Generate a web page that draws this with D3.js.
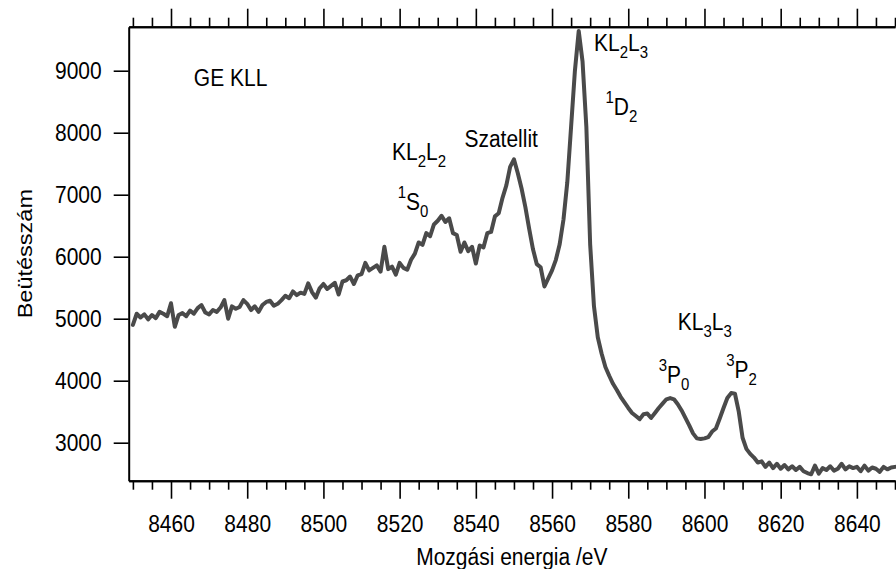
<!DOCTYPE html>
<html>
<head>
<meta charset="utf-8">
<script src="https://cdn.jsdelivr.net/npm/d3@7"></script>
<style>
  body { margin: 0; background: #fff; }
  svg { display: block; }
  text { font-family: "Liberation Sans", Arial, sans-serif; fill: #000; }
</style>
</head>
<body>
<svg id="chart" width="896" height="569"></svg>
<script>
// Kinetic energy of the electrons (eV)
const energy = [
  8450, 8451, 8452, 8453, 8454, 8455, 8456, 8457, 8458, 8459,
  8460, 8461, 8462, 8463, 8464, 8465, 8466, 8467, 8468, 8469,
  8470, 8471, 8472, 8473, 8474, 8475, 8476, 8477, 8478, 8479,
  8480, 8481, 8482, 8483, 8484, 8485, 8486, 8487, 8488, 8489,
  8490, 8491, 8492, 8493, 8494, 8495, 8496, 8497, 8498, 8499,
  8500, 8501, 8502, 8503, 8504, 8505, 8506, 8507, 8508, 8509,
  8510, 8511, 8512, 8513, 8514, 8515, 8516, 8517, 8518, 8519,
  8520, 8521, 8522, 8523, 8524, 8525, 8526, 8527, 8528, 8529,
  8530, 8531, 8532, 8533, 8534, 8535, 8536, 8537, 8538, 8539,
  8540, 8541, 8542, 8543, 8544, 8545, 8546, 8547, 8548, 8549,
  8550, 8551, 8552, 8553, 8554, 8555, 8556, 8557, 8558, 8559,
  8560, 8561, 8562, 8563, 8564, 8565, 8566, 8567, 8568, 8569,
  8570, 8571, 8572, 8573, 8574, 8575, 8576, 8577, 8578, 8579,
  8580, 8581, 8582, 8583, 8584, 8585, 8586, 8587, 8588, 8589,
  8590, 8591, 8592, 8593, 8594, 8595, 8596, 8597, 8598, 8599,
  8600, 8601, 8602, 8603, 8604, 8605, 8606, 8607, 8608, 8609,
  8610, 8611, 8612, 8613, 8614, 8615, 8616, 8617, 8618, 8619,
  8620, 8621, 8622, 8623, 8624, 8625, 8626, 8627, 8628, 8629,
  8630, 8631, 8632, 8633, 8634, 8635, 8636, 8637, 8638, 8639,
  8640, 8641, 8642, 8643, 8644, 8645, 8646, 8647, 8648, 8649,
  8650
];

// Measured counts at each energy
const counts = [
  4900, 5080, 5020, 5070, 4990, 5060, 5010, 5110, 5080, 5040,
  5250, 4870, 5060, 5090, 5040, 5130, 5080, 5170, 5220, 5100,
  5070, 5140, 5110, 5180, 5300, 5000, 5200, 5160, 5190, 5300,
  5240, 5140, 5200, 5110, 5220, 5270, 5290, 5210, 5240, 5300,
  5370, 5330, 5440, 5380, 5420, 5400, 5570, 5430, 5340, 5490,
  5560, 5480, 5530, 5580, 5390, 5600, 5620, 5680, 5560, 5700,
  5720, 5900, 5780, 5820, 5860, 5760, 6160, 5800, 5840, 5710,
  5900, 5820, 5790, 5950, 6050, 6230, 6190, 6380, 6330, 6520,
  6580, 6660, 6560, 6620, 6380, 6350, 6080, 6230, 6090, 6160,
  5890, 6180, 6150, 6380, 6400, 6650, 6700, 6950, 7150, 7450,
  7570, 7350, 7100, 6800, 6450, 6120, 5880, 5830, 5520, 5650,
  5780, 5950, 6200, 6600, 7200, 8100, 9000, 9640, 9150, 8100,
  6200, 5200, 4700, 4440, 4220, 4080, 3950, 3850, 3740, 3650,
  3560, 3480, 3430, 3380, 3460, 3470, 3400, 3480, 3560, 3630,
  3700, 3720, 3700, 3620, 3520, 3400, 3280, 3150, 3070, 3060,
  3070, 3090, 3180, 3230, 3390, 3560, 3720, 3800, 3790, 3500,
  3080, 2900, 2820, 2760, 2680, 2700, 2610, 2680, 2590, 2660,
  2580, 2640, 2570, 2620, 2560, 2610, 2540, 2510, 2490, 2630,
  2500, 2590, 2560, 2620, 2550, 2580, 2660, 2570, 2620, 2590,
  2610, 2540, 2630, 2550, 2600, 2580, 2530, 2610, 2570, 2600,
  2610
];

const xMajorTicks = [8460, 8480, 8500, 8520, 8540, 8560, 8580, 8600, 8620, 8640];
const xMinorTicks = [8450, 8455, 8465, 8470, 8475, 8485, 8490, 8495, 8505, 8510, 8515,
  8525, 8530, 8535, 8545, 8550, 8555, 8565, 8570, 8575, 8585, 8590, 8595,
  8605, 8610, 8615, 8625, 8630, 8635, 8645, 8650];
const yTicks = [3000, 4000, 5000, 6000, 7000, 8000, 9000];

const xTitle = "Mozgási energia /eV";
const yTitle = "Beütésszám";

// Peak labels: text pieces (sup / normal / sub) anchored at an (energy, counts) baseline point
const peakLabels = [
  { e: 8466,   c: 8750, parts: [["GE KLL", ""]] },
  { e: 8518,   c: 7560, parts: [["KL", ""], ["2", "sub"], ["L", ""], ["2", "sub"]] },
  { e: 8519.5, c: 6755, parts: [["1", "sup"], ["S", ""], ["0", "sub"]] },
  { e: 8537,   c: 7775, parts: [["Szatellit", ""]] },
  { e: 8571,   c: 9325, parts: [["KL", ""], ["2", "sub"], ["L", ""], ["3", "sub"]] },
  { e: 8574,   c: 8285, parts: [["1", "sup"], ["D", ""], ["2", "sub"]] },
  { e: 8593,   c: 4820, parts: [["KL", ""], ["3", "sub"], ["L", ""], ["3", "sub"]] },
  { e: 8588,   c: 3960, parts: [["3", "sup"], ["P", ""], ["0", "sub"]] },
  { e: 8605.7, c: 4040, parts: [["3", "sup"], ["P", ""], ["2", "sub"]] }
];

const plot = { left: 128.7, right: 895, top: 26.7, bottom: 480.7 };
const FONT = 21, SMALL = 15, STRETCH = 1.12;

const svg = d3.select("#chart");

const x = d3.scaleLinear().domain([8448.9, 8650]).range([plot.left, plot.right]);
const y = d3.scaleLinear().domain([2387, 9710]).range([plot.bottom, plot.top]);

function styleAxis(g) {
  g.select(".domain").attr("stroke", "#000").attr("stroke-width", 2);
  g.selectAll(".tick line").attr("stroke", "#000").attr("stroke-width", 1.6);
}

// Bottom axis: major ticks with labels, minor ticks without
const bottomMajor = svg.append("g")
  .attr("transform", `translate(0,${plot.bottom})`)
  .call(d3.axisBottom(x).tickValues(xMajorTicks).tickSize(18).tickSizeOuter(0).tickFormat(d3.format("d")));
styleAxis(bottomMajor);
bottomMajor.selectAll(".tick text")
  .attr("y", 0).attr("dy", 0)
  .attr("transform", `translate(0,51) scale(1,${STRETCH})`)
  .style("font-size", FONT + "px")
  .style("font-family", '"Liberation Sans", Arial, sans-serif')
  .attr("fill", "#000");

const bottomMinor = svg.append("g")
  .attr("transform", `translate(0,${plot.bottom})`)
  .call(d3.axisBottom(x).tickValues(xMinorTicks).tickSize(9).tickSizeOuter(0).tickFormat(""));
styleAxis(bottomMinor);

// Top axis: ticks only
const topMajor = svg.append("g")
  .attr("transform", `translate(0,${plot.top})`)
  .call(d3.axisTop(x).tickValues(xMajorTicks).tickSize(18).tickSizeOuter(0).tickFormat(""));
styleAxis(topMajor);
const topMinor = svg.append("g")
  .attr("transform", `translate(0,${plot.top})`)
  .call(d3.axisTop(x).tickValues(xMinorTicks).tickSize(9).tickSizeOuter(0).tickFormat(""));
styleAxis(topMinor);

// Left axis
const left = svg.append("g")
  .attr("transform", `translate(${plot.left},0)`)
  .call(d3.axisLeft(y).tickValues(yTicks).tickSize(15).tickSizeOuter(0).tickFormat(d3.format("d")));
styleAxis(left);
left.selectAll(".tick text")
  .attr("x", 0).attr("dy", "0.35em")
  .attr("transform", `translate(-27,0) scale(1,${STRETCH})`)
  .style("font-size", FONT + "px")
  .style("font-family", '"Liberation Sans", Arial, sans-serif')
  .attr("fill", "#000");

// Spectrum line
const line = d3.line()
  .x((d, i) => x(energy[i]))
  .y(d => y(d));

svg.append("path")
  .datum(counts)
  .attr("fill", "none")
  .attr("stroke", "#4a4a4a")
  .attr("stroke-width", 4)
  .attr("stroke-linejoin", "round")
  .attr("stroke-linecap", "round")
  .attr("d", line);

// Axis titles
svg.append("text")
  .attr("transform", `translate(${(plot.left + plot.right) / 2},565) scale(1,${STRETCH})`)
  .attr("text-anchor", "middle")
  .style("font-size", FONT + "px")
  .text(xTitle);

svg.append("text")
  .attr("transform", `translate(31.5,${(plot.top + plot.bottom) / 2}) scale(1,${STRETCH}) rotate(-90)`)
  .attr("text-anchor", "middle")
  .style("font-size", FONT + "px")
  .text(yTitle);

// Peak labels with super/subscripts
const SUP_SHIFT = -12 / STRETCH, SUB_SHIFT = 7 / STRETCH;
peakLabels.forEach(lab => {
  const t = svg.append("text")
    .attr("transform", `translate(${x(lab.e)},${y(lab.c)}) scale(1,${STRETCH})`)
    .style("font-size", FONT + "px");
  let shift = 0;
  lab.parts.forEach(([str, kind]) => {
    const target = kind === "sup" ? SUP_SHIFT : kind === "sub" ? SUB_SHIFT : 0;
    t.append("tspan")
      .attr("dy", target - shift)
      .style("font-size", (kind ? SMALL : FONT) + "px")
      .text(str);
    shift = target;
  });
});
</script>
</body>
</html>
